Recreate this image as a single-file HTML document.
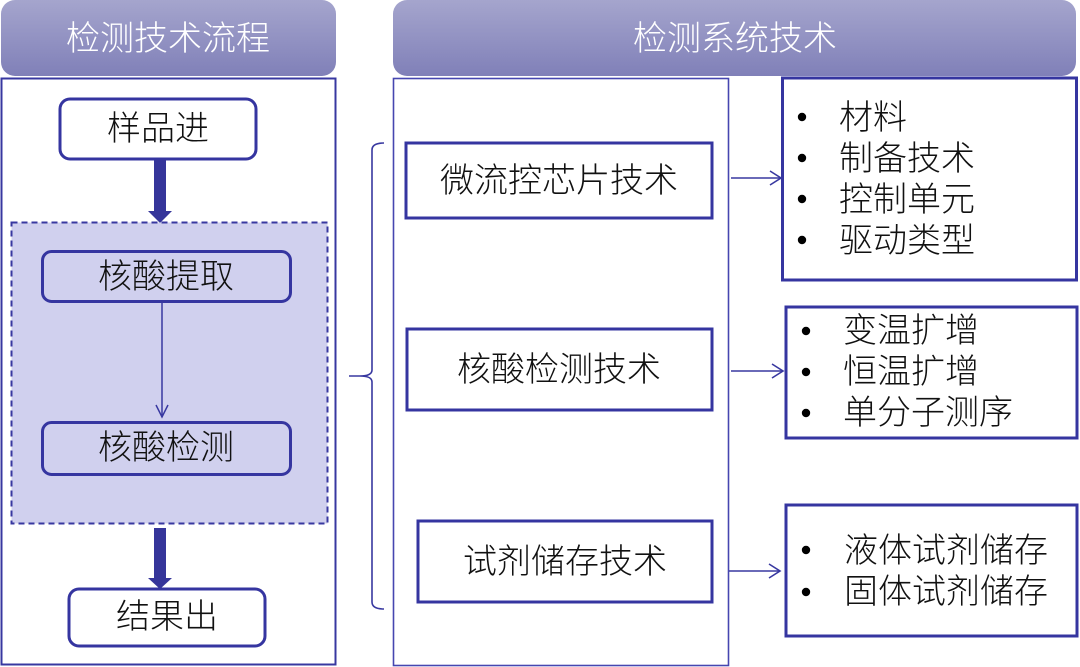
<!DOCTYPE html>
<html><head><meta charset="utf-8"><style>
html,body{margin:0;padding:0;background:#fff;}
svg{display:block;}
text{font-family:"Liberation Sans","Noto Sans CJK SC",sans-serif;font-weight:300;}
</style></head><body>
<svg width="1080" height="667" viewBox="0 0 1080 667" xmlns="http://www.w3.org/2000/svg">
<defs>
<linearGradient id="hg" x1="0" y1="0" x2="0" y2="1">
<stop offset="0" stop-color="#a5a5cd"/>
<stop offset="1" stop-color="#8080b8"/>
</linearGradient>
</defs>
<!-- headers -->
<rect x="1" y="0" width="335" height="76" rx="14" fill="url(#hg)"/>
<text x="168" y="39" font-size="34" fill="#fff" text-anchor="middle" dominant-baseline="central">检测技术流程</text>
<rect x="393" y="0" width="683" height="76" rx="14" fill="url(#hg)"/>
<text x="735" y="39" font-size="34" fill="#fff" text-anchor="middle" dominant-baseline="central">检测系统技术</text>

<!-- left panel -->
<rect x="1.5" y="78.5" width="334" height="586" fill="none" stroke="#3838a0" stroke-width="2"/>
<rect x="60" y="99" width="196" height="60" rx="10" fill="#fff" stroke="#3535a0" stroke-width="3"/>
<text x="158" y="129" font-size="34" fill="#111" text-anchor="middle" dominant-baseline="central">样品进</text>
<!-- thick arrow 1 -->
<polygon points="154,160 166,160 166,211 172,211 160,223 148,211 154,211" fill="#35359a"/>
<!-- dashed group -->
<rect x="11.5" y="222.5" width="316" height="301" fill="#d0d0ee" stroke="#3838a0" stroke-width="2" stroke-dasharray="6,4"/>
<rect x="42.5" y="251.5" width="248" height="50" rx="9" fill="#d0d0ee" stroke="#3535a0" stroke-width="3"/>
<text x="166" y="277" font-size="34" fill="#111" text-anchor="middle" dominant-baseline="central">核酸提取</text>
<line x1="162" y1="302" x2="162" y2="417" stroke="#3838a0" stroke-width="1.5"/>
<polyline points="156,405 162,417 168,405" fill="none" stroke="#3838a0" stroke-width="1.5"/>
<rect x="42.5" y="422.5" width="248" height="52" rx="9" fill="#d0d0ee" stroke="#3535a0" stroke-width="3"/>
<text x="166" y="448" font-size="34" fill="#111" text-anchor="middle" dominant-baseline="central">核酸检测</text>
<!-- thick arrow 2 -->
<polygon points="154,528 166,528 166,578 172,578 160,589 148,578 154,578" fill="#35359a"/>
<rect x="69" y="589" width="196" height="57" rx="10" fill="#fff" stroke="#3535a0" stroke-width="3"/>
<text x="167" y="617" font-size="34" fill="#111" text-anchor="middle" dominant-baseline="central">结果出</text>

<!-- brace -->
<path d="M384,143 Q372,143 372,150 L372,370 Q372,376 360,376 L349,376 M360,376 Q372,376 372,382 L372,602 Q372,609 384,609" fill="none" stroke="#3838a0" stroke-width="1.6"/>

<!-- middle panel -->
<rect x="393.5" y="78.5" width="335" height="587" fill="none" stroke="#4646b0" stroke-width="1.6"/>
<rect x="406" y="143" width="306" height="75" fill="#fff" stroke="#3535a0" stroke-width="3"/>
<text x="559" y="181" font-size="34" fill="#111" text-anchor="middle" dominant-baseline="central">微流控芯片技术</text>
<rect x="407" y="329" width="305" height="81" fill="#fff" stroke="#3535a0" stroke-width="3"/>
<text x="559" y="370" font-size="34" fill="#111" text-anchor="middle" dominant-baseline="central">核酸检测技术</text>
<rect x="418" y="521" width="294" height="81" fill="#fff" stroke="#3535a0" stroke-width="3"/>
<text x="565" y="562" font-size="34" fill="#111" text-anchor="middle" dominant-baseline="central">试剂储存技术</text>

<!-- connector arrows -->
<g fill="none" stroke="#3838a0" stroke-width="1.6">
<line x1="731" y1="178" x2="781" y2="178"/><polyline points="770,171 781,178 770,185"/>
<line x1="731" y1="371" x2="783" y2="371"/><polyline points="772,364 783,371 772,378"/>
<line x1="729" y1="571" x2="780" y2="571"/><polyline points="769,564 780,571 769,578"/>
</g>

<!-- right boxes -->
<rect x="782.5" y="78" width="294" height="202" fill="#fff" stroke="#3535a0" stroke-width="3"/>
<rect x="786" y="307" width="291" height="131" fill="#fff" stroke="#3535a0" stroke-width="3"/>
<rect x="786" y="505" width="291" height="131" fill="#fff" stroke="#3535a0" stroke-width="3"/>

<g fill="#000">
<circle cx="802" cy="117" r="4.2"/><circle cx="802" cy="158" r="4.2"/><circle cx="802" cy="199" r="4.2"/><circle cx="802" cy="240" r="4.2"/>
<circle cx="806" cy="331" r="4.2"/><circle cx="806" cy="372" r="4.2"/><circle cx="806" cy="413" r="4.2"/>
<circle cx="806" cy="550" r="4.2"/><circle cx="806" cy="592" r="4.2"/>
</g>
<g font-size="34" fill="#111" dominant-baseline="central">
<text x="839" y="118">材料</text>
<text x="839" y="159">制备技术</text>
<text x="839" y="200">控制单元</text>
<text x="839" y="241">驱动类型</text>
<text x="843" y="331">变温扩增</text>
<text x="843" y="372">恒温扩增</text>
<text x="843" y="413">单分子测序</text>
<text x="844" y="551">液体试剂储存</text>
<text x="844" y="592">固体试剂储存</text>
</g>
</svg>
</body></html>
